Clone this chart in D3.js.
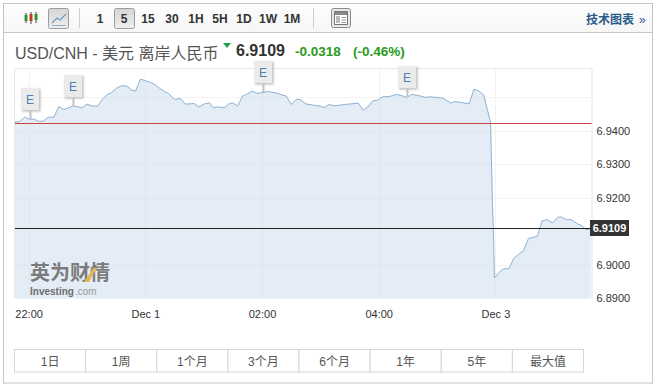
<!DOCTYPE html>
<html>
<head>
<meta charset="utf-8">
<script src="https://cdn.jsdelivr.net/npm/d3@7"></script>
<style>
    html, body { margin: 0; padding: 0; background: #fff; }
    svg { display: block; }
    text { font-family: "Liberation Sans", "Noto Sans CJK SC", sans-serif; }
</style>
</head>
<body>
<div id="chart"></div>
<script>
// minutes since the 22:00 tick
const minutes = [-14, -10, -4, 1, 6, 10, 15, 20, 26, 31, 36, 41, 46, 55, 60, 65, 71, 76, 81, 85, 91, 96, 101, 106, 110, 115, 121, 128, 135, 140, 144, 150, 156, 161, 170, 175, 181, 186, 190, 195, 201, 206, 210, 215, 220, 225, 230, 235, 241, 246, 255, 265, 270, 275, 279, 285, 293, 300, 304, 309, 315, 325, 339, 344, 350, 354, 359, 364, 371, 379, 385, 389, 394, 402, 409, 413, 426, 434, 438, 453, 458, 463, 468, 471, 475, 476, 477, 478, 479, 483, 488, 494, 499, 509, 514, 523, 528, 533, 539, 544, 548, 553, 558, 564, 569, 573, 578];
const prices = [6.9426, 6.9426, 6.9440, 6.9434, 6.9434, 6.9428, 6.9428, 6.9440, 6.9440, 6.9472, 6.9463, 6.9468, 6.9474, 6.9468, 6.9479, 6.9474, 6.9473, 6.9494, 6.9508, 6.9513, 6.9528, 6.9534, 6.9533, 6.9521, 6.9518, 6.9554, 6.9548, 6.9541, 6.9526, 6.9516, 6.9511, 6.9493, 6.9496, 6.9479, 6.9481, 6.9471, 6.9480, 6.9483, 6.9468, 6.9471, 6.9468, 6.9480, 6.9483, 6.9473, 6.9503, 6.9510, 6.9518, 6.9511, 6.9514, 6.9517, 6.9512, 6.9503, 6.9478, 6.9493, 6.9493, 6.9480, 6.9476, 6.9473, 6.9469, 6.9478, 6.9474, 6.9478, 6.9482, 6.9461, 6.9474, 6.9489, 6.9491, 6.9501, 6.9502, 6.9508, 6.9503, 6.9499, 6.9508, 6.9504, 6.9499, 6.9501, 6.9497, 6.9482, 6.9487, 6.9480, 6.9524, 6.9518, 6.9506, 6.9471, 6.9425, 6.9303, 6.9177, 6.9093, 6.8960, 6.8974, 6.8987, 6.8988, 6.9019, 6.9042, 6.9078, 6.9084, 6.9130, 6.9134, 6.9124, 6.9141, 6.9142, 6.9134, 6.9134, 6.9122, 6.9116, 6.9104, 6.9106];

const xTickValues = [0, 120, 240, 360, 480];
const xTickLabels = ['22:00', 'Dec 1', '02:00', '04:00', 'Dec 3'];
const yTickValues = [6.94, 6.93, 6.92, 6.90, 6.89];
const eventMinutes = [1, 46, 241, 389];
const prevClose = 6.9423;
const lastPrice = 6.9109;

const intervals = ['1', '5', '15', '30', '1H', '5H', '1D', '1W', '1M'];
const ranges = ['1日', '1周', '1个月', '3个月', '6个月', '1年', '5年', '最大值'];

const width = 661, height = 391;
const plot = { left: 15, right: 591.5, top: 68, bottom: 298 };

const svg = d3.select('#chart').append('svg')
    .attr('width', width)
    .attr('height', height);

const x = d3.scaleLinear([-14, 578], [plot.left, 590.7]);
const y = d3.scaleLinear([6.89, 6.9587], [plot.bottom, plot.top]);

const defs = svg.append('defs');
const grad = defs.append('linearGradient').attr('id', 'btn').attr('x2', 0).attr('y2', 1);
grad.append('stop').attr('offset', 0).attr('stop-color', '#d6d6d6');
grad.append('stop').attr('offset', 1).attr('stop-color', '#efefef');
const head = defs.append('linearGradient').attr('id', 'head').attr('x2', 0).attr('y2', 1);
head.append('stop').attr('offset', 0).attr('stop-color', '#fdfdfd');
head.append('stop').attr('offset', 1).attr('stop-color', '#f6f6f6');
defs.append('filter').attr('id', 'soft').append('feGaussianBlur').attr('stdDeviation', 0.8);

// outer frame and toolbar
svg.append('rect').attr('x', 3.5).attr('y', 3.5).attr('width', 649).attr('height', 379.5)
    .attr('fill', '#fff').attr('stroke', '#c4c4c4');
svg.append('rect').attr('x', 4).attr('y', 4).attr('width', 648).attr('height', 28)
    .attr('fill', 'url(#head)');
svg.append('line').attr('x1', 4).attr('x2', 652).attr('y1', 32.5).attr('y2', 32.5).attr('stroke', '#c9c9c9');

const toolbar = svg.append('g');

// candle icon
[[26, 13, 23, 15, 21, '#2a9a2a'], [31, 12, 24, 14, 21, '#c0392b'], [36, 12, 23, 14, 20, '#2a9a2a']].forEach(c => {
    toolbar.append('line').attr('x1', c[0]).attr('x2', c[0]).attr('y1', c[1]).attr('y2', c[2]).attr('stroke', '#444');
    toolbar.append('rect').attr('x', c[0] - 1.5).attr('y', c[3]).attr('width', 3).attr('height', c[4] - c[3]).attr('fill', c[5]);
});

function pressedButton(px, w) {
    toolbar.append('rect').attr('x', px).attr('y', 8.5).attr('width', w).attr('height', 20).attr('rx', 2)
        .attr('fill', 'url(#btn)').attr('stroke', '#9c9c9c');
}

// line icon button
pressedButton(48.5, 20);
toolbar.append('path').attr('d', 'M52 23 L57 18 L60 20 L66 14').attr('fill', 'none').attr('stroke', '#6f9cc6').attr('stroke-width', 1.2);
toolbar.append('line').attr('x1', 52).attr('x2', 66).attr('y1', 25.5).attr('y2', 25.5).attr('stroke', '#8fb2d4');

toolbar.selectAll('line.sep').data([79.5, 313.5]).join('line').attr('class', 'sep')
    .attr('x1', d => d).attr('x2', d => d).attr('y1', 8).attr('y2', 28).attr('stroke', '#cfcfcf');

const intervalX = d3.scaleOrdinal(intervals, [100, 124, 148, 172, 196, 220, 244, 268, 292]);
pressedButton(114.5, 20);
toolbar.selectAll('text.interval').data(intervals).join('text').attr('class', 'interval')
    .attr('x', d => intervalX(d)).attr('y', 22.5)
    .attr('text-anchor', 'middle').attr('font-size', 12).attr('font-weight', 'bold').attr('fill', '#333')
    .text(d => d);

// layout icon button
toolbar.append('rect').attr('x', 331.5).attr('y', 8.5).attr('width', 19).attr('height', 19).attr('rx', 2)
    .attr('fill', '#e8e8e8').attr('stroke', '#8a8a8a');
toolbar.append('rect').attr('x', 334.5).attr('y', 11.5).attr('width', 13).attr('height', 13)
    .attr('fill', '#fff').attr('stroke', '#777');
toolbar.append('rect').attr('x', 335).attr('y', 12).attr('width', 12).attr('height', 3).attr('fill', '#888');
toolbar.append('rect').attr('x', 336).attr('y', 16).attr('width', 4).attr('height', 7).attr('fill', '#bbb');
toolbar.append('path').attr('d', 'M341.5 17.5H346M341.5 20H346M341.5 22.5H346').attr('stroke', '#999');

toolbar.append('text').attr('x', 586).attr('y', 24).attr('font-size', 12).attr('font-weight', 'bold')
    .attr('fill', '#2a5b8c').text('技术图表');
toolbar.append('text').attr('x', 639).attr('y', 24).attr('font-size', 12).attr('fill', '#2a5b8c').text('»');

// quote line
svg.append('text').attr('x', 15).attr('y', 59).attr('font-size', 16).attr('fill', '#555').text('USD/CNH - 美元 离岸人民币');
svg.append('path').attr('d', 'M223 43H231L227 48Z').attr('fill', '#1f9e4a');
svg.append('text').attr('x', 236).attr('y', 56).attr('font-size', 16).attr('font-weight', 'bold').attr('fill', '#333').text(lastPrice.toFixed(4));
svg.append('text').attr('x', 295).attr('y', 56).attr('font-size', 13.5).attr('font-weight', 'bold').attr('fill', '#2a9a1c').text('-0.0318');
svg.append('text').attr('x', 353).attr('y', 56).attr('font-size', 13.5).attr('font-weight', 'bold').attr('fill', '#2a9a1c').text('(-0.46%)');

// grid
const grid = svg.append('g').attr('stroke', '#f3f3f3');
grid.selectAll('line.gy').data(yTickValues.concat([6.95])).join('line').attr('class', 'gy')
    .attr('x1', plot.left).attr('x2', plot.right)
    .attr('y1', d => Math.round(y(d)) + 0.5).attr('y2', d => Math.round(y(d)) + 0.5);
grid.selectAll('line.gx').data(xTickValues).join('line').attr('class', 'gx')
    .attr('y1', plot.top).attr('y2', plot.bottom)
    .attr('x1', d => Math.round(x(d)) + 0.5).attr('x2', d => Math.round(x(d)) + 0.5);

// area + line
const area = d3.area().x((d, i) => x(minutes[i])).y0(plot.bottom).y1(d => y(d));
const line = d3.line().x((d, i) => x(minutes[i])).y(d => y(d));

svg.append('path').datum(prices).attr('d', area).attr('fill', '#c9dcee').attr('fill-opacity', 0.5);
svg.append('path').datum(prices).attr('d', line).attr('fill', 'none').attr('stroke', '#8db1d3').attr('stroke-width', 1);

// frame of the plot
svg.append('path').attr('d', `M${plot.left - 0.5} ${plot.bottom}V${plot.top + 0.5}H${plot.right + 0.5}V${plot.bottom}`)
    .attr('fill', 'none').attr('stroke', '#e6e6e6');

// watermark
const mark = svg.append('g');
mark.append('text').attr('x', 30).attr('y', 280).attr('font-size', 20).attr('font-weight', 'bold')
    .attr('fill', '#7b7b7b').text('英为财情');
mark.append('path').attr('d', 'M84 282L89 282L97 268L93 268Z').attr('fill', '#e3b458');
mark.append('text').attr('x', 30).attr('y', 295).attr('font-size', 10).attr('font-weight', 'bold').attr('fill', '#6e6e6e').text('Investing');
mark.append('text').attr('x', 75).attr('y', 295).attr('font-size', 10).attr('fill', '#9a9a9a').text('.com');

// last price rule
svg.append('rect').attr('x', plot.left).attr('width', plot.right - plot.left)
    .attr('y', Math.round(y(lastPrice))).attr('height', 1)
    .attr('fill', '#222');

// event flags
const priceAt = t => prices[minutes.indexOf(t)] ?? prices[d3.bisectLeft(minutes, t)];
const flag = svg.selectAll('g.flag').data(eventMinutes).join('g').attr('class', 'flag')
    .attr('transform', d => `translate(${Math.round(x(d))},${Math.round(y(priceAt(d)))})`);
flag.append('line').attr('x1', 0.5).attr('x2', 0.5).attr('y1', -8).attr('y2', 0).attr('stroke', '#c2c2c2').attr('stroke-width', 2);
flag.append('rect').attr('x', -8).attr('y', -30).attr('width', 18.5).attr('height', 22.5).attr('fill', '#bdbdbd').attr('filter', 'url(#soft)');
flag.append('rect').attr('x', -9).attr('y', -31).attr('width', 18).attr('height', 22).attr('fill', '#ebebeb');
flag.append('text').attr('x', 0).attr('y', -15.5).attr('text-anchor', 'middle').attr('font-size', 12)
    .attr('fill', '#4c7fb5').text('E');

// axes
const yAxis = svg.append('g').attr('transform', `translate(${plot.right},0)`)
    .call(d3.axisRight(y).tickValues(yTickValues).tickFormat(d3.format('.4f')).tickSize(0).tickPadding(5));
yAxis.select('.domain').remove();
yAxis.selectAll('text').attr('font-size', 11).attr('font-family', null).attr('fill', '#333');

const xAxis = svg.append('g').attr('transform', `translate(0,${plot.bottom})`)
    .call(d3.axisBottom(x).tickValues(xTickValues).tickFormat((d, i) => xTickLabels[i]).tickSize(0).tickPadding(12));
xAxis.select('.domain').remove();
xAxis.selectAll('text').attr('font-size', 11).attr('font-family', null).attr('fill', '#333');

// last price tag
svg.append('rect').attr('x', 590).attr('y', Math.round(y(lastPrice)) - 8).attr('width', 39).attr('height', 16).attr('fill', '#333');
svg.append('text').attr('x', 609.5).attr('y', Math.round(y(lastPrice)) + 4)
    .attr('text-anchor', 'middle').attr('font-size', 11).attr('font-weight', 'bold').attr('fill', '#fff')
    .text(lastPrice.toFixed(4));

// range buttons
const rangeX = d3.scaleBand(ranges, [14.5, 583.5]);
const rangeBar = svg.selectAll('g.range').data(ranges).join('g').attr('class', 'range')
    .attr('transform', d => `translate(${rangeX(d)},349.5)`);
rangeBar.append('rect').attr('width', rangeX.bandwidth()).attr('height', 22.5)
    .attr('fill', '#fff').attr('stroke', '#d6d6d6');
rangeBar.append('text').attr('x', rangeX.bandwidth() / 2).attr('y', 16)
    .attr('text-anchor', 'middle').attr('font-size', 12).attr('fill', '#555').text(d => d);

// previous close rule goes on top of everything
svg.append('rect').attr('x', plot.left).attr('width', plot.right - plot.left)
    .attr('y', Math.round(y(prevClose))).attr('height', 1)
    .attr('fill', '#cc4040');
</script>
</body>
</html>
